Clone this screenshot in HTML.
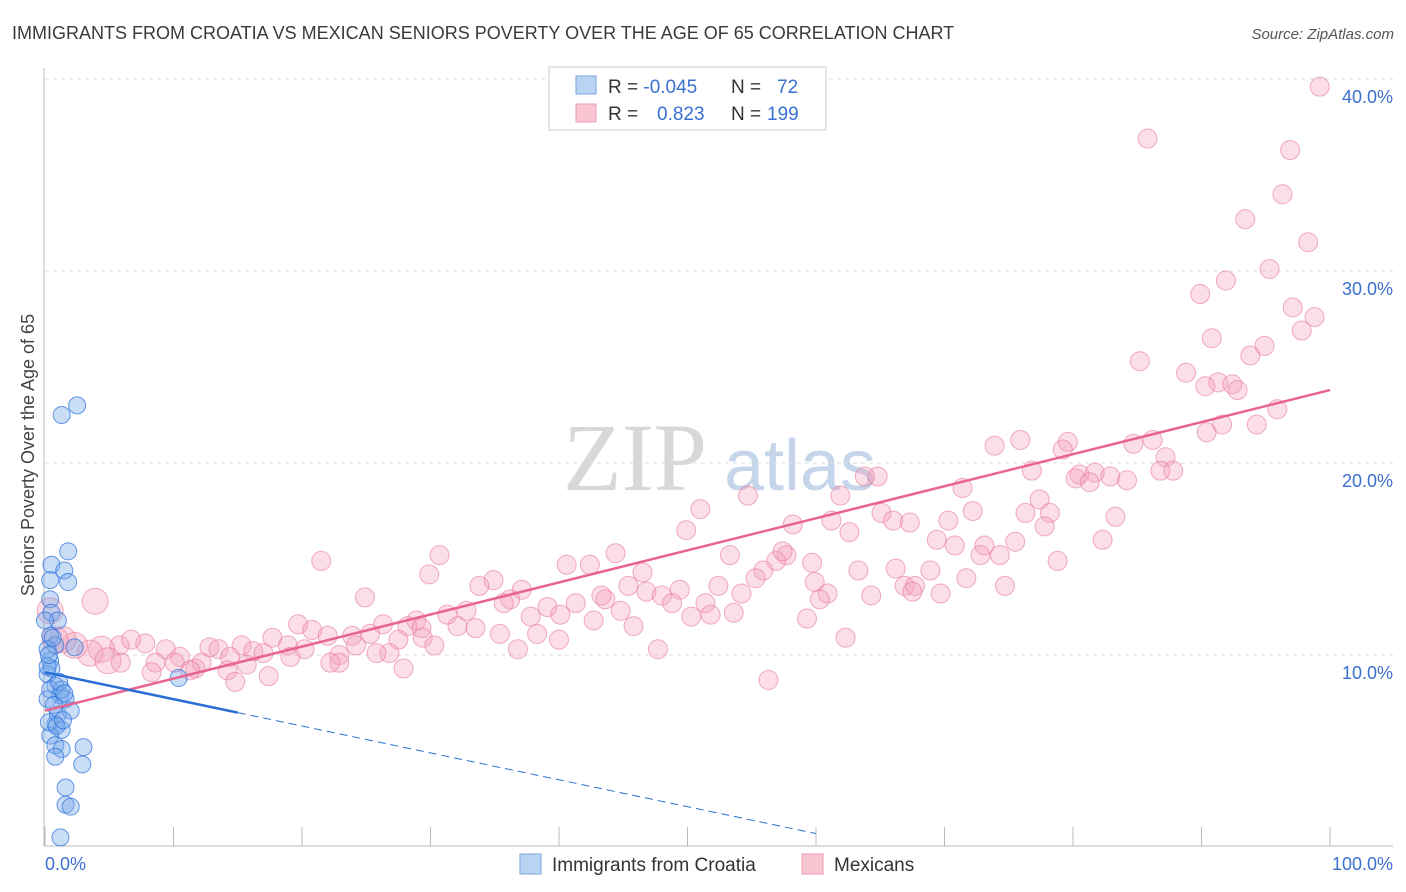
<!DOCTYPE html>
<html><head><meta charset="utf-8">
<style>
body{margin:0;background:#fff;font-family:"Liberation Sans",sans-serif;}
svg{display:block}
</style></head>
<body>
<svg id="chart" width="1406" height="892" xmlns="http://www.w3.org/2000/svg">
<text x="12" y="39" font-size="18" fill="#3a3a3a">IMMIGRANTS FROM CROATIA VS MEXICAN SENIORS POVERTY OVER THE AGE OF 65 CORRELATION CHART</text>
<text x="1394" y="39" font-size="15" fill="#555" text-anchor="end" font-style="italic">Source: ZipAtlas.com</text>
<g>
<text x="635" y="490" font-size="96" font-family="Liberation Serif,serif" fill="#d8d8d8" text-anchor="middle">ZIP</text>
<text x="800" y="490" font-size="72" fill="#c5d5ea" text-anchor="middle">atlas</text>
</g>
<g id="grid"></g>
<g id="axes"></g>
<g id="pts"></g>
<g id="lines"></g>
<text transform="translate(34,455) rotate(-90)" font-size="18" fill="#444" text-anchor="middle">Seniors Poverty Over the Age of 65</text>
<g>
<rect x="549" y="67" width="277" height="63" fill="#fff" stroke="#ccc"/>
<rect x="576" y="76" width="20" height="18" fill="#b9d3f3" stroke="#7aa5e0"/>
<rect x="576" y="104" width="20" height="18" fill="#f8c6d3" stroke="#eb9ab0"/>
<text x="608" y="93" font-size="19" fill="#333">R = <tspan fill="#3a70d0">-0.045</tspan><tspan x="731">N = </tspan><tspan x="777" fill="#3a70d0">72</tspan></text>
<text x="608" y="120" font-size="19" fill="#333">R = <tspan x="657" fill="#3a70d0">0.823</tspan><tspan x="731">N = </tspan><tspan x="767" fill="#3a70d0">199</tspan></text>
</g>
<g>
<rect x="520" y="854" width="21" height="20" fill="#b9d3f3" stroke="#7aa5e0"/>
<text x="552" y="871" font-size="19" fill="#333">Immigrants from Croatia</text>
<rect x="802" y="854" width="21" height="20" fill="#f8c6d3" stroke="#eb9ab0"/>
<text x="834" y="871" font-size="19" fill="#333">Mexicans</text>
</g>
</svg>
<script>
const yTicks=[10,20,30,40];
const yTickLabels=["10.0%","20.0%","30.0%","40.0%"];
const xEndLabels=["0.0%","100.0%"];
const blueX=[1.3,2.5,1.8,0.5,1.5,1.8,0.4,0.4,0.5,0.4,0.8,2.3,0.4,0.2,0.8,1.2,0.2,1.6,1.0,2.0,0.8,1.3,0.4,0.8,1.3,3.0,2.9,0.8,1.6,1.6,2.0,1.2,10.4,0.4,0.2,1.0,1.3,0,0.5,1.1,0.3,0.7,1.5,0.2,0.6,0.9,1.4,0.3];
const blueY=[22.5,23.0,15.4,14.7,14.4,13.8,13.9,12.9,12.2,11.0,10.5,10.4,9.7,9.0,8.4,7.9,7.7,7.7,6.9,7.1,6.4,6.1,5.8,5.3,5.1,5.2,4.3,4.7,3.1,2.2,2.1,0.5,8.8,8.2,10.3,11.8,8.2,11.8,9.3,8.6,6.5,7.4,8.0,9.4,10.9,6.3,6.6,10.0];
const pinkX=[99.2,85.8,96.9,96.3,93.4,98.3,95.3,91.9,89.9,97.1,98.8,97.8,90.8,94.9,93.8,85.2,88.8,91.3,92.4,90.3,92.8,95.9,91.6,90.4,94.3,86.2,84.7,75.9,73.9,79.6,79.2,87.2,87.8,86.8,80.5,81.7,80.2,81.3,82.9,84.2,76.8,64.8,63.8,71.4,61.9,54.7,77.4,78.2,76.3,83.3,51.0,72.2,65.1,66.0,67.3,70.3,61.2,58.2,77.8,49.9,62.6,69.4,70.8,75.5,82.3,73.1,78.8,74.3,30.7,44.4,53.3,57.7,56.9,59.7,57.4,72.8,21.5,40.6,42.4,55.9,63.3,66.2,68.9,29.9,46.5,55.3,71.7,74.7,34.9,33.8,52.4,59.9,66.9,67.7,45.4,49.4,37.1,46.8,48.0,54.2,60.9,64.3,69.7,67.5,24.9,36.2,43.6,43.3,51.4,60.3,35.7,39.1,41.3,48.8,53.6,51.8,40.1,44.8,32.8,26.3,28.9,31.3,37.8,42.7,50.3,59.3,19.7,28.2,29.3,33.5,32.1,45.8,20.8,22.0,23.9,25.3,27.5,29.4,35.4,38.3,17.7,18.9,15.3,40.0,62.3,30.3,24.2,20.2,12.8,13.5,16.2,17.0,36.8,47.7,26.8,25.8,22.9,19.1,14.4,9.4,10.5,7.8,5.8,6.7,4.4,3.5,2.3,1.4,3.9,4.9,5.9,8.6,10.1,11.7,12.2,15.7,22.9,22.2,8.3,11.3,27.9,14.2,17.4,14.8,56.3,0.8,0.4];
const pinkY=[39.6,36.9,36.3,34.0,32.7,31.5,30.1,29.5,28.8,28.1,27.6,26.9,26.5,26.1,25.6,25.3,24.7,24.2,24.1,24.0,23.8,22.8,22.0,21.6,22.0,21.2,21.0,21.2,20.9,21.1,20.7,20.3,19.6,19.6,19.4,19.5,19.2,19.0,19.3,19.1,19.6,19.3,19.3,18.7,18.3,18.3,18.1,17.4,17.4,17.2,17.6,17.5,17.4,17.0,16.9,17.0,17.0,16.8,16.7,16.5,16.4,16.0,15.7,15.9,16.0,15.7,14.9,15.2,15.2,15.3,15.2,15.2,14.9,14.8,15.4,15.2,14.9,14.7,14.7,14.4,14.4,14.5,14.4,14.2,14.3,14.0,14.0,13.6,13.9,13.6,13.6,13.8,13.6,13.6,13.6,13.4,13.4,13.3,13.1,13.2,13.2,13.1,13.2,13.3,13.0,12.9,12.9,13.1,12.7,12.9,12.7,12.5,12.7,12.7,12.2,12.1,12.1,12.3,12.3,11.6,11.8,12.1,12.0,11.8,12.0,11.9,11.6,11.5,11.4,11.4,11.5,11.5,11.3,11.0,11.0,11.1,10.8,10.9,11.1,11.1,10.9,10.5,10.5,10.8,10.9,10.5,10.5,10.3,10.4,10.3,10.2,10.1,10.3,10.3,10.1,10.1,10.0,9.9,9.9,10.3,9.9,10.6,10.5,10.8,10.3,10.1,10.5,10.8,12.8,9.7,9.6,9.6,9.6,9.3,9.6,9.5,9.6,9.6,9.1,9.2,9.3,9.2,8.9,8.6,8.7,10.8,12.3];
const pinkTrend=[7.1,23.8];
const blueTrend=[9.1,7.0,0.7];
const blueTrendX=[0,15,60];

const X0=45,X1=1330,Y0=847,YS=19.2;
const sx=v=>X0+(X1-X0)*v/100;
const sy=v=>Y0-v*YS;
const NS="http://www.w3.org/2000/svg";
function mk(tag,parent,attrs){const e=document.createElementNS(NS,tag);for(const k in attrs)e.setAttribute(k,attrs[k]);document.getElementById(parent).appendChild(e);return e;}

yTicks.forEach((t,i)=>{
 const g=mk('line','grid',{x1:45,x2:1393,y1:sy(t),y2:sy(t),stroke:'#ddd','stroke-dasharray':'4,4'});
 
 
 const l=mk('text','axes',{x:1393,y:sy(t)+24,'font-size':18,fill:'#3a70d0','text-anchor':'end'});
 l.textContent=yTickLabels[i];
 
 
});
const ax=mk('line','axes',{x1:44,x2:44,y1:68,y2:846,stroke:'#bbb'});


const bx=mk('line','axes',{x1:44,x2:1393,y1:846,y2:846,stroke:'#bbb'});


for(let i=0;i<=10;i++){
 const t=mk('line','axes',{x1:sx(i*10),x2:sx(i*10),y1:827,y2:846,stroke:'#bbb'});
 
 
}
const xl0=mk('text','axes',{x:45,y:870,'font-size':18,fill:'#3a70d0'});
xl0.textContent=xEndLabels[0];


const xl1=mk('text','axes',{x:1393,y:870,'font-size':18,fill:'#3a70d0','text-anchor':'end'});
xl1.textContent=xEndLabels[1];



pinkX.forEach((x,i)=>{
 const r=x<5?13:9.5;
 const c=mk('circle','pts',{cx:sx(x),cy:sy(pinkY[i]),r:(i==pinkX.length-2?13:r),fill:'rgba(244,160,185,0.35)',stroke:'rgba(232,120,155,0.6)','stroke-width':1});
 
 
});
blueX.forEach((x,i)=>{
 const c=mk('circle','pts',{cx:sx(x),cy:sy(blueY[i]),r:8.5,fill:'rgba(120,170,235,0.4)',stroke:'rgba(40,110,220,0.7)','stroke-width':1});
 
 
});
const pl=mk('line','lines',{x1:sx(0),y1:sy(pinkTrend[0]),x2:sx(100),y2:sy(pinkTrend[1]),stroke:'#e8648f','stroke-width':2.5});


const bl=mk('line','lines',{x1:sx(blueTrendX[0]),y1:sy(blueTrend[0]),x2:sx(blueTrendX[1]),y2:sy(blueTrend[1]),stroke:'#2a6fd6','stroke-width':2.5});


const bd=mk('line','lines',{x1:sx(blueTrendX[1]),y1:sy(blueTrend[1]),x2:sx(blueTrendX[2]),y2:sy(blueTrend[2]),stroke:'#2a6fd6','stroke-width':1,'stroke-dasharray':'8,5'});


</script>
</body></html>
